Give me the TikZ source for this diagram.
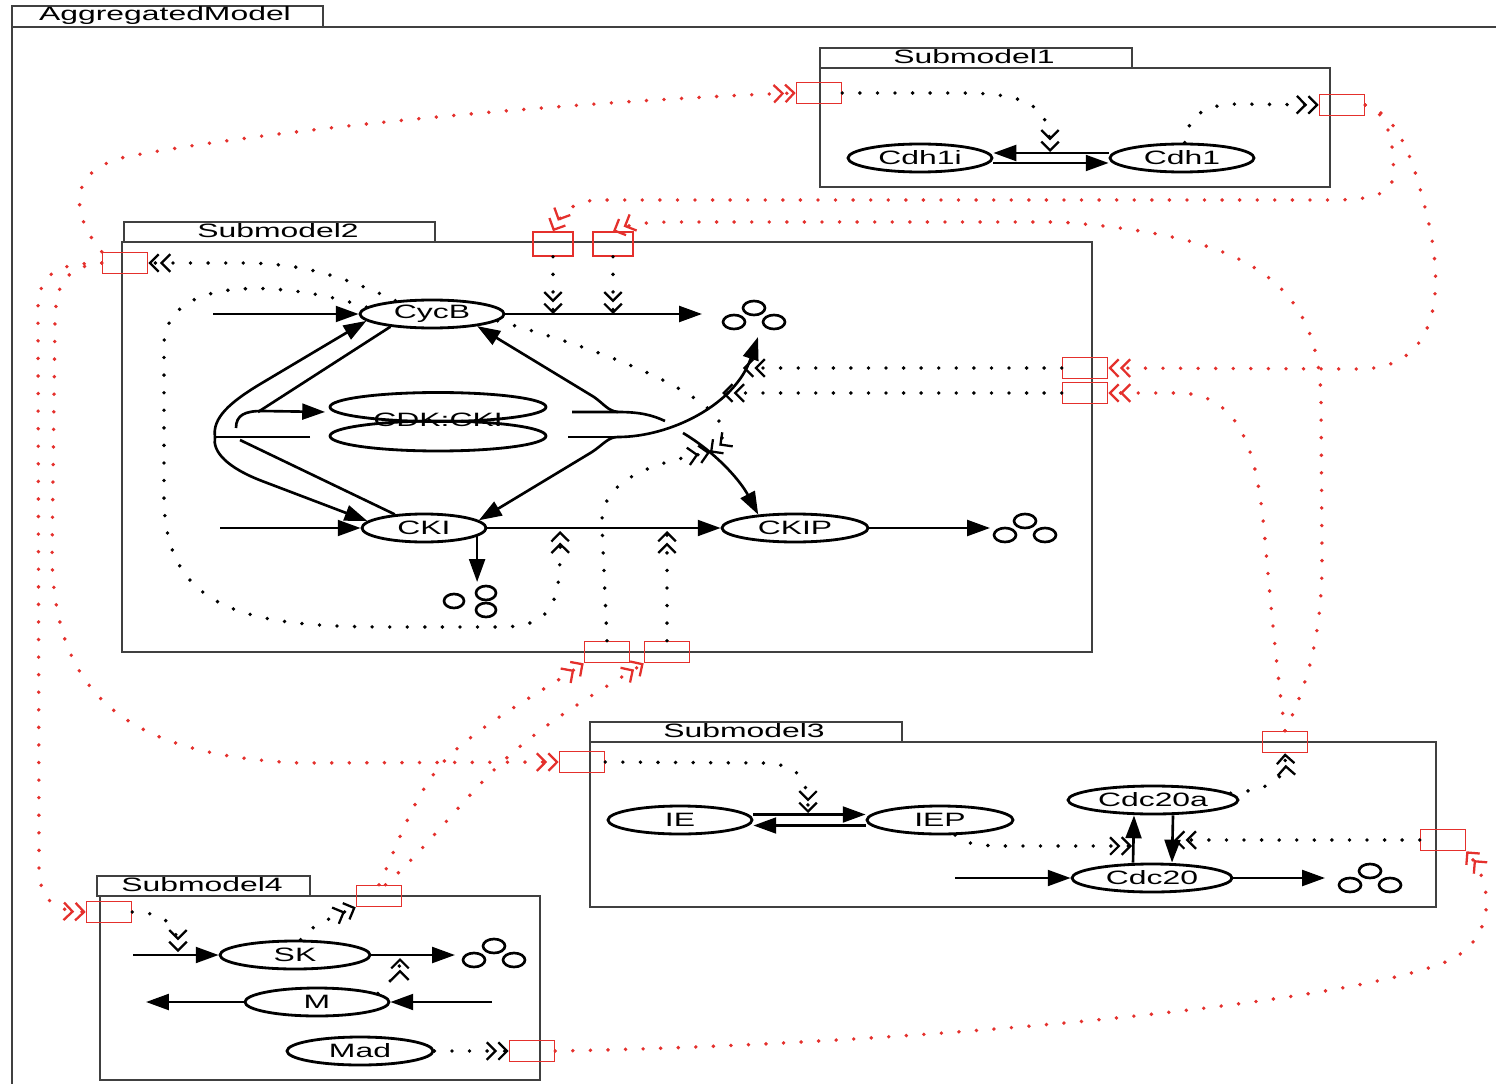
\documentclass[tikz,border=0pt]{standalone}
\usepackage{fontspec}
\setmainfont{Liberation Sans}
\usepackage{tikz}
\usetikzlibrary{arrows.meta,shapes.geometric}
\definecolor{linkred}{RGB}{228,48,44}
\newcommand{\wtext}[1]{\scalebox{1.65}[1]{#1}}
\tikzset{
  species/.style  = {ellipse,draw,line width=1.6pt,inner sep=0pt,minimum height=0.56cm,
                     font=\fontsize{11}{13}\selectfont},
  port/.style     = {draw=linkred,line width=0.9pt,minimum width=0.9cm,minimum height=0.42cm,inner sep=0pt},
  reac/.style     = {line width=1.5pt,-{Triangle[length=13pt,width=9pt]}},
  plain/.style    = {line width=1.5pt},
  modif/.style    = {line width=2.2pt,dash pattern=on 0pt off 10pt,line cap=round,
                     -{Straight Barb[length=5pt,width=10pt,line width=1.3pt]Straight Barb[length=5pt,width=10pt,line width=1.3pt]}},
  link/.style     = {modif,draw=linkred},
  frame/.style    = {draw=black!75,line width=1pt},
  tablabel/.style = {font=\fontsize{11}{13}\selectfont,inner sep=0pt},
  sinkline/.style = {line width=1.5pt}
}
% degradation symbol: one circle on top, two below
\newcommand{\degr}[2]{%
  \coordinate (#1) at (#2);
  \begin{scope}[shift={(#2)}]
    \draw[sinkline] (0,-9) ellipse (11 and 7);
    \draw[sinkline] (-20,5) ellipse (11 and 7);
    \draw[sinkline] (20,5) ellipse (11 and 7);
  \end{scope}}
% same symbol turned on its side
\newcommand{\degrside}[2]{%
  \coordinate (#1) at (#2);
  \begin{scope}[shift={(#2)}]
    \draw[sinkline] (-18,0) ellipse (10 and 7);
    \draw[sinkline] (14,-8) ellipse (10 and 7);
    \draw[sinkline] (14,9) ellipse (10 and 7);
  \end{scope}}

\begin{document}
\begin{tikzpicture}[x=0.02cm,y=-0.02cm]
  \useasboundingbox (0,0) rectangle (1496,1084);

  % frames
  \draw[frame] (12,6) rectangle (323,27);
  \node[tablabel] (aggname) at (165,16) {\wtext{AggregatedModel}};
  \draw[frame] (1496,27) -- (12,27) -- (12,1084);
  \draw[frame] (820,48) rectangle (1132,68);
  \draw[frame] (820,68) rectangle (1330,187);
  \node[tablabel] (sub1name) at (974,57) {\wtext{Submodel1}};
  \draw[frame] (124,222) rectangle (435,242);
  \draw[frame] (122,242) rectangle (1092,652);
  \node[tablabel] (sub2name) at (278,231) {\wtext{Submodel2}};
  \draw[frame] (590,722) rectangle (902,742);
  \draw[frame] (590,742) rectangle (1436,907);
  \node[tablabel] (sub3name) at (744,731) {\wtext{Submodel3}};
  \draw[frame] (97,876) rectangle (310,896);
  \draw[frame] (100,896) rectangle (540,1080);
  \node[tablabel] (sub4name) at (202,885) {\wtext{Submodel4}};

  % species
  \node[species,minimum width=2.88cm] (cdh1i) at (920,158) {\wtext{Cdh1i}};
  \node[species,minimum width=2.88cm] (cdh1) at (1182,158) {\wtext{Cdh1}};
  \node[species,minimum width=2.88cm] (cycb) at (432,314) {\wtext{CycB}};
  \node[species,minimum width=4.32cm,minimum height=0.58cm] (cdku) at (438,407) {};
  \node[species,minimum width=4.32cm,minimum height=0.6cm] (cdkl) at (438,436) {};
  \node[tablabel] (cdkname) at (438,420) {\wtext{CDK:CKI}};
  \node[species,minimum width=2.48cm] (cki) at (424,528) {\wtext{CKI}};
  \node[species,minimum width=2.92cm] (ckip) at (795,528) {\wtext{CKIP}};
  \node[species,minimum width=2.88cm] (ie) at (680,820) {\wtext{IE}};
  \node[species,minimum width=2.92cm] (iep) at (940,820) {\wtext{IEP}};
  \node[species,minimum width=3.4cm] (cdc20a) at (1153,800) {\wtext{Cdc20a}};
  \node[species,minimum width=3.2cm] (cdc20) at (1152,878) {\wtext{Cdc20}};
  \node[species,minimum width=3.0cm] (sk) at (295,955) {\wtext{SK}};
  \node[species,minimum width=2.88cm] (m) at (317,1002) {\wtext{M}};
  \node[species,minimum width=2.92cm] (mad) at (360,1051) {\wtext{Mad}};

  % ports
  \node[port] (p1in) at (819,93) {};
  \node[port] (p1out) at (1342,105) {};
  \node[port] (p2out) at (125,263) {};
  \node[port,minimum width=0.8cm,minimum height=0.48cm] (p2top1) at (553,244) {};
  \node[port,minimum width=0.8cm,minimum height=0.48cm] (p2top2) at (613,244) {};
  \node[port] (p2r1) at (1085,368) {};
  \node[port] (p2r2) at (1085,393) {};
  \node[port] (p2b1) at (607,652) {};
  \node[port] (p2b2) at (667,652) {};
  \node[port] (p3in) at (582,762) {};
  \node[port] (p3out) at (1285,742) {};
  \node[port] (p3r) at (1443,840) {};
  \node[port] (p4in) at (109,912) {};
  \node[port] (p4out) at (379,896) {};
  \node[port] (p4mad) at (532,1051) {};

  % Submodel1
  \draw[reac] ([yshift=0.1cm]cdh1.west) -- ([yshift=0.1cm]cdh1i.east);
  \draw[reac] ([yshift=-0.1cm]cdh1i.east) -- ([yshift=-0.1cm]cdh1.west);
  \coordinate (inact) at (1050,152);
  \draw[modif] (p1in.east) -- (960,93) .. controls (1035,93) and (1050,110) .. (inact);
  \draw[modif] (cdh1.80) .. controls (1188,118) and (1200,104) .. (1240,104) -- (p1out.west);

  % Submodel2: synthesis, degradation, phosphorylation
  \coordinate (srcB) at (213,314);
  \draw[reac] (srcB) -- (cycb.west);
  \coordinate (degB) at (702,314);
  \draw[reac] (cycb.east) -- (degB);
  \degr{sinkB}{754,317}
  \coordinate (srcI) at (220,528);
  \draw[reac] (srcI) -- (cki.west);
  \draw[reac] (cki.east) -- (ckip.west);
  \coordinate (degP) at (990,528);
  \draw[reac] (ckip.east) -- (degP);
  \degr{sinkP}{1025,530}
  \degrside{sinkI}{472,601}
  \coordinate (sinkItop) at (476,582);
  \draw[reac] (cki.-9) -- (cki.-9 |- sinkItop);

  % complex dissociation
  \coordinate (disA) at (310,437);
  \coordinate (disF) at (215,437);
  \draw[plain] (disA) -- (disF);
  \draw[reac] (disF) .. controls (212,418) and (230,402) .. (262,383) -- (cycb.186);
  \draw[reac] (disF) .. controls (212,452) and (228,468) .. (262,481) -- (cki.173);
  % complex formation
  \coordinate (asJ) at (258,412);
  \coordinate (asK) at (240,440);
  \coordinate (asF) at (236,428);
  \draw[plain] (cycb.197) -- (asJ);
  \draw[plain] (cki.155) -- (asK);
  \draw[reac,shorten >=2pt] (asF) .. controls (236,415) and (245,411) .. (262,411) -- (cdku.west |- asJ);

  % complex to CycB + CKIP
  \coordinate (t1a) at (572,412);
  \coordinate (t1) at (618,412);
  \draw[plain] (t1a) -- (t1) .. controls (640,412) and (652,415) .. (665,421);
  \draw[reac] (t1) .. controls (608,411) and (604,404) .. (594,397) -- (cycb.-15);
  \draw[reac] (683,433) .. controls (715,452) and (740,480) .. (ckip.160) coordinate[pos=0.3] (phos);
  % complex to CKI + degradation
  \coordinate (t2a) at (568,437);
  \coordinate (t2) at (618,437);
  \draw[plain] (t2a) -- (t2);
  \draw[reac] (t2) .. controls (670,437) and (735,405) .. (758,337)
    coordinate[pos=0.83] (mod1) coordinate[pos=0.66] (mod2);
  \draw[reac] (t2) .. controls (608,437) and (604,444) .. (592,452) -- (cki.8);

  % Submodel2 modifiers
  \draw[modif] (p2top1.south) -- (p2top1.south |- degB);
  \draw[modif] (p2top2.south) -- (p2top2.south |- degB);
  \draw[modif] (cycb.160) .. controls (330,270) and (290,263) .. (240,263) -- (p2out.east);
  \coordinate (kpB) at (560,531);
  \coordinate (kpS) at (662,531);
  \draw[modif] (cycb.174) .. controls (290,282) and (165,272) .. (164,345) -- (164,500)
    .. controls (166,612) and (250,627) .. (390,627) -- (500,627)
    .. controls (556,627) and (561,600) .. (kpB);
  \draw[modif] (p2b2.north) -- (p2b2.north |- kpS);
  \draw[modif] (cycb.-6) .. controls (640,360) and (760,415) .. (phos);
  \draw[modif] (p2b1.north) -- (602,525) .. controls (600,485) and (640,465) .. (phos);
  \draw[modif] (p2r1.west) -- (mod1 |- p2r1.west);
  \draw[modif] (p2r2.west) -- (mod2 |- p2r2.west);

  % Submodel3
  \draw[reac] ([yshift=0.11cm]ie.east) -- ([yshift=0.11cm]iep.west);
  \draw[reac] ([yshift=-0.11cm]iep.west) -- ([yshift=-0.11cm]ie.east);
  \coordinate (actE) at (808,813);
  \draw[modif] (p3in.east) -- (760,763) .. controls (800,763) and (808,780) .. (actE);
  \draw[reac] ([xshift=-0.38cm]cdc20.north) -- ([xshift=-0.38cm]cdc20a.south);
  \draw[reac] ([xshift=0.4cm]cdc20a.south) -- ([xshift=0.4cm]cdc20.north);
  \coordinate (actC) at (1132,846);
  \coordinate (inhC) at (1174,840);
  \draw[modif] (iep.-45) .. controls (965,846) and (990,846) .. (1010,846) -- (actC);
  \draw[modif] (p3r.west) -- (inhC |- p3r.west);
  \draw[modif] (cdc20a.5) .. controls (1260,790) and (1287,785) .. (p3out.south);
  \coordinate (srcC) at (955,878);
  \draw[reac] (srcC) -- (cdc20.west);
  \coordinate (degC) at (1325,878);
  \draw[reac] (cdc20.east) -- (degC);
  \degr{sinkC}{1370,880}

  % Submodel4
  \coordinate (srcK) at (133,955);
  \coordinate (actK) at (178,952);
  \draw[reac] (srcK) -- (sk.west);
  \draw[modif] (p4in.east) .. controls (160,912) and (178,922) .. (actK);
  \coordinate (degK) at (455,955);
  \draw[reac] (sk.east) -- (degK);
  \degr{sinkK}{494,955}
  \coordinate (inhK) at (400,958);
  \draw[modif] (m.8) .. controls (385,985) and (400,975) .. (inhK);
  \draw[modif] (sk.70) .. controls (305,930) and (325,920) .. (p4out.south west);
  \coordinate (inM) at (492,1002);
  \coordinate (outM) at (146,1002);
  \draw[reac] (inM) -- (m.east);
  \draw[reac] (m.west) -- (outM);
  \draw[modif] (mad.east) -- (p4mad.west);

  % links between submodels
  \draw[link] (p2out.north west) .. controls (75,220) and (60,170) .. (130,156)
    .. controls (300,125) and (600,100) .. (p1in.west);
  \draw[link] (p2out.west) .. controls (55,263) and (38,275) .. (38,310) -- (39,870)
    .. controls (40,900) and (55,911) .. (p4in.west);
  \draw[link] (p2out.west) .. controls (64,267) and (56,285) .. (55,320) -- (52,560)
    .. controls (56,690) and (120,755) .. (300,763) -- (p3in.west);
  \draw[link] (p1out.east) .. controls (1390,112) and (1395,150) .. (1393,178)
    .. controls (1390,195) and (1370,200) .. (1330,200) -- (600,200)
    .. controls (575,200) and (562,212) .. (p2top1.north);
  \draw[link] (p1out.east) .. controls (1400,115) and (1415,165) .. (1428,220)
    .. controls (1442,280) and (1445,368) .. (1360,369) -- (p2r1.east);
  \draw[link] (p3out.north) .. controls (1305,690) and (1322,640) .. (1322,560) -- (1321,400)
    .. controls (1319,270) and (1230,235) .. (1060,222) -- (670,222)
    .. controls (640,222) and (625,226) .. (p2top2.north);
  \draw[link] (p3out.north) .. controls (1278,680) and (1272,620) .. (1265,540)
    .. controls (1258,460) and (1245,395) .. (1180,393) -- (p2r2.east);
  \draw[link] (p4out.north) .. controls (400,840) and (415,790) .. (450,755)
    .. controls (490,718) and (545,690) .. (p2b1.south west);
  \draw[link] (p4out.60) .. controls (425,850) and (470,790) .. (510,755)
    .. controls (555,715) and (610,685) .. (p2b2.south west);
  \draw[link] (p4mad.east) .. controls (900,1045) and (1350,1005) .. (1450,960)
    .. controls (1495,938) and (1495,885) .. (p3r.south east);
\end{tikzpicture}
\end{document}
